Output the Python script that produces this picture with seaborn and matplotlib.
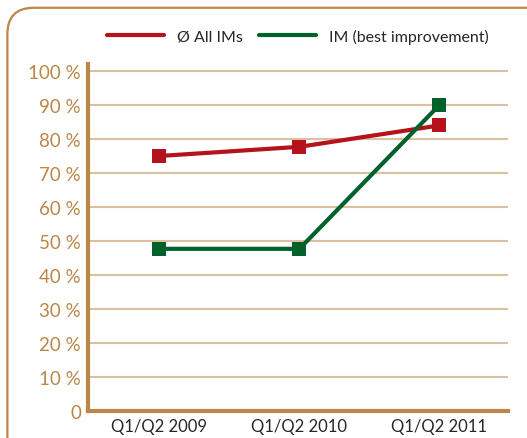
import matplotlib.pyplot as plt
import seaborn as sns
import pandas as pd
from matplotlib.patches import FancyBboxPatch

periods = ["Q1/Q2 2009", "Q1/Q2 2010", "Q1/Q2 2011"]
all_ims = [75, 77.7, 84]
best_im = [47.7, 47.7, 90]
series_names = ["Ø All IMs", "IM (best improvement)"]
y_ticks = [0, 10, 20, 30, 40, 50, 60, 70, 80, 90, 100]
y_labels = ["0"] + [f"{v} %" for v in y_ticks[1:]]

tan = "#bb8647"
grid_tan = "#dcc1a0"
colors = {series_names[0]: "#b5121b", series_names[1]: "#00612b"}

df = pd.DataFrame({
    "period": periods * 2,
    "x": list(range(len(periods))) * 2,
    "value": all_ims + best_im,
    "series": [series_names[0]] * 3 + [series_names[1]] * 3,
})

sns.set_style("white")
plt.rcParams["font.family"] = ["Lato", "DejaVu Sans"]

fig = plt.figure(figsize=(5.27, 4.39), dpi=100)
frame = FancyBboxPatch((0.014, -0.1), 1.2, 1.08, boxstyle="round,pad=0,rounding_size=0.05",
                       transform=fig.transFigure, facecolor="none", edgecolor=tan,
                       linewidth=1.6, mutation_aspect=527 / 439, zorder=-1)
fig.patches.append(frame)

ax = fig.add_axes([0.167, 0.0615, 0.797, 0.79])
ax.set_facecolor("none")
sns.lineplot(data=df, x="x", y="value", hue="series", palette=colors, marker="s",
             markersize=10, markeredgewidth=0, linewidth=3, ax=ax, zorder=3)

ax.set_xlim(-0.51, 2.49)
ax.set_ylim(0, 102)
ax.set_yticks(y_ticks)
ax.set_yticklabels(y_labels, color=tan, fontsize=13.5)
ax.set_xticks(range(len(periods)))
ax.set_xticklabels(periods, fontsize=12)
ax.tick_params(axis="y", length=0, pad=5)
ax.tick_params(axis="x", length=0, pad=5)
ax.yaxis.grid(True, color=grid_tan, linewidth=1.5)
ax.set_axisbelow(True)
for s in ["top", "right"]:
    ax.spines[s].set_visible(False)
for s in ["left", "bottom"]:
    ax.spines[s].set_color(tan)
    ax.spines[s].set_linewidth(3)
ax.set_xlabel("")
ax.set_ylabel("")

handles, labels = ax.get_legend_handles_labels()
for h in handles:
    h.set_marker("")
ax.legend(handles, labels, loc="center", bbox_to_anchor=(0.565, 0.915), bbox_transform=fig.transFigure,
          ncol=2, frameon=False, fontsize=11.5, handlelength=3.6, columnspacing=1.0, handletextpad=0.8)

fig.savefig("out.png", dpi=100)
